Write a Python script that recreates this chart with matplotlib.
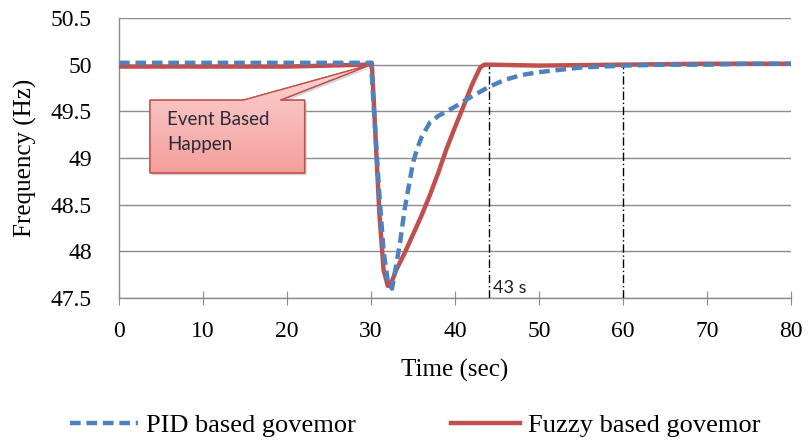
import matplotlib
matplotlib.use("Agg")
import matplotlib.pyplot as plt
import numpy as np
from matplotlib.patches import Polygon
from matplotlib.lines import Line2D
from matplotlib.colors import LinearSegmentedColormap

# ---- data ----
pid_t = [0, 5, 10, 15, 20, 25, 29.5, 30, 30.5, 31, 31.5, 32, 32.5, 33, 33.5, 34, 34.5,
         35, 35.5, 36, 37, 38, 40, 42, 44, 46, 48, 50, 55, 60, 65, 70, 75, 80]
pid_f = [50.02, 50.02, 50.02, 50.02, 50.02, 50.02, 50.02, 50.02, 49.3, 48.6, 48.0, 47.68,
         47.6, 47.85, 48.12, 48.45, 48.7, 48.95, 49.1, 49.22, 49.38, 49.45, 49.55, 49.66,
         49.76, 49.84, 49.89, 49.92, 49.97, 49.99, 50.0, 50.0, 50.01, 50.01]
fuzzy_t = [0, 5, 10, 15, 20, 25, 29.5, 30.1, 30.5, 31, 31.5, 32, 32.5, 33, 34, 35, 36, 37,
           38, 39, 40, 41, 42, 43, 43.5, 44, 50, 60, 70, 80]
fuzzy_f = [49.98, 49.98, 49.98, 49.98, 49.98, 49.99, 50.0, 50.02, 49.3, 48.4, 47.8, 47.63,
           47.68, 47.8, 47.98, 48.18, 48.38, 48.6, 48.84, 49.1, 49.33, 49.55, 49.78, 49.97,
           50.0, 50.0, 49.99, 50.0, 50.01, 50.01]
marker_times = [44, 60]
event_time = 30
event_freq = 50.0
x_ticks = [0, 10, 20, 30, 40, 50, 60, 70, 80]
y_ticks = [47.5, 48, 48.5, 49, 49.5, 50, 50.5]
y_tick_labels = ["47.5", "48", "48.5", "49", "49.5", "50", "50.5"]

SERIF = ["Liberation Serif", "DejaVu Serif"]
SANS = ["Lato", "DejaVu Sans"]

W, H = 809, 440
DPI = 100
fig = plt.figure(figsize=(W / DPI, H / DPI), dpi=DPI)
AX_L, AX_R, AX_T, AX_B = 119, 791, 18, 298
ax = fig.add_axes([AX_L / W, 1 - AX_B / H, (AX_R - AX_L) / W, (AX_B - AX_T) / H])

ax.set_xlim(0, 80)
ax.set_ylim(47.5, 50.5)
ax.set_xticks(x_ticks)
ax.set_yticks(y_ticks)
ax.set_yticklabels(y_tick_labels)
ax.grid(axis="y", color="#8c8c8c", linewidth=1.0)
ax.set_axisbelow(True)
for s in ["top", "right"]:
    ax.spines[s].set_visible(False)
for s in ["left", "bottom"]:
    ax.spines[s].set_color("#8c8c8c")
    ax.spines[s].set_linewidth(1.0)
xpad, ypad = 11.0, 19.0
ax.tick_params(axis="x", direction="inout", length=10, color="#8c8c8c", labelsize=17, pad=xpad)
ax.tick_params(axis="y", length=0, labelsize=17, pad=ypad)
for lab in ax.get_xticklabels() + ax.get_yticklabels():
    lab.set_family(SERIF)

# marker vertical lines
for mt in marker_times:
    ax.plot([mt, mt], [47.5, 50.0], color="black", linewidth=1.0,
            linestyle=(0, (6, 2, 1, 2)), zorder=2)
ax.text(44.5, 47.52, "43 s", fontsize=13, family=SANS,
        color="#1f1f1f", va="bottom", ha="left")

# curves
ax.plot(fuzzy_t, fuzzy_f, color="#c0504d", linewidth=3.2, solid_joinstyle="round",
        zorder=3)
ax.plot(pid_t, pid_f, color="#4f81bd", linewidth=3.2, linestyle=(0, (2.4, 1.3)),
        zorder=4)

# callout
bx0, bx1 = 3.7, 22.1
by0, by1 = 48.84, 49.62
w0, w1 = 14.8, 19.2
poly_pts = [(bx0, by1), (w0, by1), (event_time, event_freq), (w1, by1), (bx1, by1),
            (bx1, by0), (bx0, by0)]
shadow = Polygon([(x + 0.25, y - 0.025) for x, y in poly_pts], closed=True,
                 facecolor="#bbbbbb", edgecolor="none", alpha=0.6, zorder=5)
ax.add_patch(shadow)
poly = Polygon(poly_pts, closed=True, facecolor="#f6b0ae", edgecolor="#c0504d",
               linewidth=1.0, zorder=6)
ax.add_patch(poly)
grad = np.linspace(0, 1, 100).reshape(-1, 1)
cm = LinearSegmentedColormap.from_list("pk", ["#fcd6d5", "#f49e9b"])
im = ax.imshow(grad, cmap=cm, extent=[bx0, event_time, by0, event_freq], origin="upper",
               aspect="auto", zorder=6.5)
im.set_clip_path(poly)
edge = Polygon(poly_pts, closed=True, facecolor="none", edgecolor="#c0504d",
               linewidth=1.0, zorder=7)
ax.add_patch(edge)
ax.text(bx0 + 2.0, by1 - 0.12, "Event Based\nHappen", fontsize=13.5,
        family=SANS, color="#2a2a3a", va="top", ha="left",
        linespacing=1.55, zorder=8)

ax.set_xlabel("Time (sec)", family=SERIF, fontsize=18)
ax.set_ylabel("Frequency (Hz)", family=SERIF, fontsize=18)

handles = [Line2D([], [], color="#4f81bd", linewidth=3.2, linestyle=(0, (2.4, 1.3))),
           Line2D([], [], color="#c0504d", linewidth=3.2)]
fig.legend(handles, ["PID based govemor", "Fuzzy based govemor"], loc="center",
           bbox_to_anchor=(0.513, 1 - 425 / H), ncol=2, frameon=False,
           prop={"family": SERIF, "size": 19},
           handlelength=2.6, handletextpad=0.3, columnspacing=3.6)

# ---- place tick labels / axis labels at the reference's pixel positions ----
ax.xaxis.set_label_coords(0.5, -0.25)
ax.yaxis.set_label_coords(-0.15, 0.5)
pt = DPI / 72.0
for _ in range(3):
    fig.canvas.draw()
    r = fig.canvas.get_renderer()
    # y tick labels: right edge at x=92
    bb = ax.get_yticklabels()[-1].get_window_extent(r)
    ypad += (bb.x1 - 92) / pt
    # x tick labels: centre at y=331 (from top)
    bb = ax.get_xticklabels()[1].get_window_extent(r)
    cy = H - (bb.y0 + bb.y1) / 2
    xpad += (331 - cy) / pt
    ax.tick_params(axis="x", pad=xpad)
    ax.tick_params(axis="y", pad=ypad)
    # y label centre at x=25
    bb = ax.yaxis.label.get_window_extent(r)
    cx = (bb.x0 + bb.x1) / 2
    px, py = ax.yaxis.label.get_position()
    fx = ax.transAxes.inverted().transform(ax.yaxis.label.get_transform().transform((px, py)))[0]
    ax.yaxis.set_label_coords(fx + (25 - cx) / (AX_R - AX_L), 0.5)
    # x label centre at y=370
    bb = ax.xaxis.label.get_window_extent(r)
    cyl = H - (bb.y0 + bb.y1) / 2
    px, py = ax.xaxis.label.get_position()
    fy = ax.transAxes.inverted().transform(ax.xaxis.label.get_transform().transform((px, py)))[1]
    ax.xaxis.set_label_coords(0.5, fy - (370 - cyl) / (AX_B - AX_T))
    for lab in ax.get_xticklabels() + ax.get_yticklabels():
        lab.set_family(SERIF)

fig.savefig("out.png", dpi=DPI)
